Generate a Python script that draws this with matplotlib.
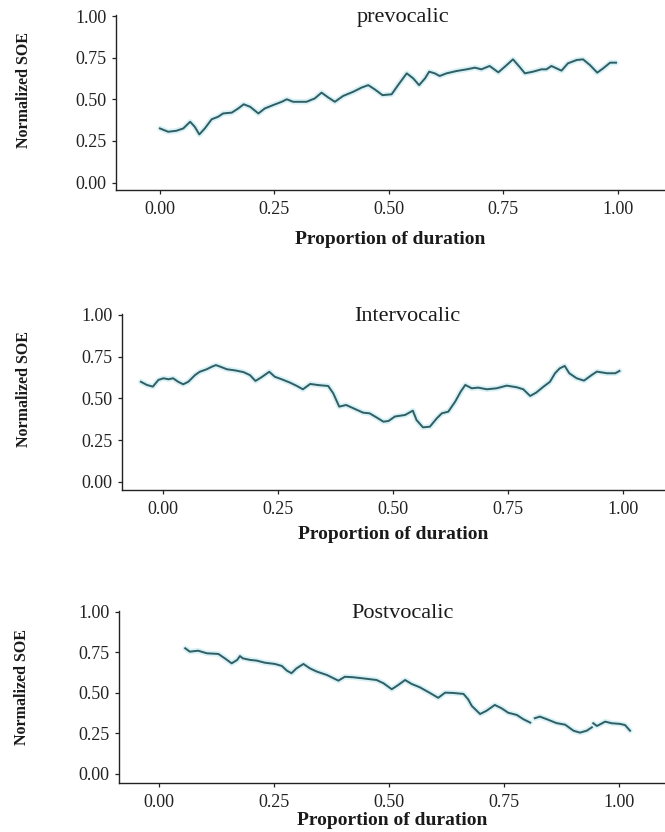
import numpy as np
import matplotlib
matplotlib.use("Agg")
import matplotlib.pyplot as plt

plt.rcParams['font.family'] = ['Liberation Serif', 'DejaVu Serif']

# --- data ---
titles = ["prevocalic", "Intervocalic", "Postvocalic"]
xticks = [0.0, 0.25, 0.5, 0.75, 1.0]
yticks = [0.0, 0.25, 0.5, 0.75, 1.0]
tick_labels = ["0.00", "0.25", "0.50", "0.75", "1.00"]

pre_x = [0.0, 0.018, 0.036, 0.051, 0.066, 0.076, 0.086, 0.098, 0.113, 0.127,
         0.138, 0.157, 0.171, 0.183, 0.197, 0.215, 0.229, 0.247, 0.266, 0.277,
         0.291, 0.32, 0.338, 0.353, 0.367, 0.382, 0.40, 0.422, 0.44, 0.455,
         0.469, 0.486, 0.506, 0.52, 0.539, 0.553, 0.566, 0.579, 0.588, 0.60,
         0.611, 0.626, 0.648, 0.67, 0.688, 0.702, 0.72, 0.739, 0.755, 0.771,
         0.785, 0.797, 0.815, 0.833, 0.844, 0.855, 0.866, 0.877, 0.891, 0.91,
         0.924, 0.939, 0.955, 0.968, 0.983, 0.996]
pre_y = [0.325, 0.305, 0.311, 0.325, 0.365, 0.335, 0.289, 0.325, 0.38, 0.395,
         0.415, 0.42, 0.445, 0.47, 0.455, 0.415, 0.445, 0.465, 0.485, 0.50,
         0.485, 0.485, 0.505, 0.54, 0.512, 0.485, 0.52, 0.545, 0.57, 0.585,
         0.56, 0.525, 0.53, 0.585, 0.656, 0.626, 0.585, 0.626, 0.666, 0.656,
         0.64, 0.656, 0.67, 0.68, 0.69, 0.68, 0.70, 0.662, 0.70, 0.74,
         0.696, 0.656, 0.666, 0.68, 0.68, 0.70, 0.686, 0.672, 0.716, 0.736,
         0.74, 0.706, 0.66, 0.686, 0.72, 0.72]

inter_x = [-0.048, -0.035, -0.022, -0.01, 0.001, 0.012, 0.022, 0.033, 0.044, 0.055,
           0.07, 0.08, 0.095, 0.106, 0.115, 0.125, 0.139, 0.157, 0.175, 0.189,
           0.201, 0.214, 0.231, 0.243, 0.258, 0.276, 0.291, 0.304, 0.32, 0.338,
           0.359, 0.37, 0.383, 0.398, 0.414, 0.435, 0.449, 0.465, 0.479, 0.49,
           0.504, 0.526, 0.543, 0.551, 0.565, 0.58, 0.595, 0.606, 0.62, 0.635,
           0.647, 0.657, 0.671, 0.685, 0.704, 0.725, 0.747, 0.769, 0.783, 0.798,
           0.811, 0.827, 0.841, 0.852, 0.862, 0.873, 0.883, 0.899, 0.915, 0.932,
           0.943, 0.965, 0.983, 0.992]
inter_y = [0.60, 0.581, 0.571, 0.611, 0.621, 0.615, 0.621, 0.60, 0.585, 0.60,
           0.641, 0.66, 0.675, 0.69, 0.70, 0.69, 0.675, 0.668, 0.658, 0.64,
           0.605, 0.627, 0.66, 0.63, 0.615, 0.595, 0.575, 0.555, 0.587, 0.58,
           0.575, 0.531, 0.451, 0.461, 0.441, 0.415, 0.411, 0.385, 0.361, 0.365,
           0.392, 0.401, 0.427, 0.371, 0.327, 0.331, 0.381, 0.411, 0.421, 0.481,
           0.541, 0.581, 0.561, 0.565, 0.555, 0.561, 0.577, 0.567, 0.555, 0.515,
           0.535, 0.571, 0.60, 0.651, 0.68, 0.695, 0.651, 0.621, 0.607, 0.641,
           0.661, 0.651, 0.651, 0.665]

post_x = [0.057, 0.067, 0.085, 0.104, 0.129, 0.143, 0.158, 0.17, 0.176, 0.182,
          0.198, 0.212, 0.23, 0.252, 0.267, 0.278, 0.288, 0.299, 0.314, 0.328,
          0.343, 0.365, 0.39, 0.404, 0.422, 0.444, 0.473, 0.488, 0.506, 0.52,
          0.535, 0.549, 0.567, 0.589, 0.607, 0.622, 0.64, 0.662, 0.672, 0.68,
          0.698, 0.712, 0.73, 0.745, 0.759, 0.778, 0.792, 0.807, 0.812, 0.817,
          0.828, 0.843, 0.864, 0.883, 0.901, 0.915, 0.93, 0.941, 0.943, 0.944,
          0.952, 0.97, 0.984, 1.002, 1.013, 1.024]
post_y = [0.776, 0.755, 0.761, 0.745, 0.741, 0.714, 0.683, 0.704, 0.728, 0.714,
          0.704, 0.70, 0.687, 0.679, 0.667, 0.638, 0.622, 0.652, 0.679, 0.652,
          0.632, 0.611, 0.576, 0.60, 0.597, 0.59, 0.58, 0.56, 0.523, 0.549,
          0.58, 0.556, 0.535, 0.50, 0.47, 0.502, 0.50, 0.494, 0.461, 0.42,
          0.37, 0.39, 0.426, 0.405, 0.378, 0.364, 0.338, 0.317, np.nan, 0.344,
          0.354, 0.338, 0.314, 0.304, 0.267, 0.255, 0.267, 0.288, np.nan, 0.313,
          0.296, 0.323, 0.313, 0.309, 0.302, 0.267]

series = [(pre_x, pre_y), (inter_x, inter_y), (post_x, post_y)]

# --- layout (figure fractions / axis limits) ---
rects = [[0.1744, 0.7716, 0.8256, 0.2103],
         [0.1835, 0.4111, 0.8165, 0.2115],
         [0.1789, 0.0589, 0.8211, 0.2067]]
xlims = [(-0.096, 1.103), (-0.089, 1.091), (-0.087, 1.10)]
ylims = [(-0.045, 1.006), (-0.048, 1.006), (-0.056, 1.006)]
xlab_off = [0.235, 0.205, 0.17]
ylab_pos = [(-0.153, 0.574), (-0.166, 0.574), (-0.163, 0.558)]

fig = plt.figure(figsize=(6.65, 8.32), dpi=100)

for i in range(3):
    ax = fig.add_axes(rects[i])
    x, y = series[i]
    ax.plot(x, y, color='#bfe9f2', lw=4.0, alpha=0.6, solid_capstyle='round')
    ax.plot(x, y, color='#2f5e63', lw=1.4)
    ax.set_xlim(xlims[i])
    ax.set_ylim(ylims[i])
    ax.set_xticks(xticks)
    ax.set_xticklabels(tick_labels)
    ax.set_yticks(yticks)
    ax.set_yticklabels(tick_labels)
    for s in ['top', 'right']:
        ax.spines[s].set_visible(False)
    for s in ['left', 'bottom']:
        ax.spines[s].set_linewidth(1.0)
        ax.spines[s].set_color('#222222')
    ax.tick_params(axis='both', length=3, width=0.9, color='#222222',
                   labelsize=13, labelcolor='#222222')
    ax.tick_params(axis='x', pad=5)
    ax.tick_params(axis='y', pad=4)
    ax.text(0.53, 0.99, titles[i], ha='center', va='center', fontsize=16,
            color='#1a1a1a')
    ax.set_xlabel("Proportion of duration", fontsize=14, fontweight='bold',
                  color='#1a1a1a')
    ax.xaxis.set_label_coords(0.5, -xlab_off[i])
    ax.set_ylabel("Normalized SOE", fontsize=11.5, fontweight='bold',
                  color='#1a1a1a')
    ax.yaxis.set_label_coords(ylab_pos[i][0], ylab_pos[i][1])

fig.savefig("out.png", dpi=100, facecolor='white')
